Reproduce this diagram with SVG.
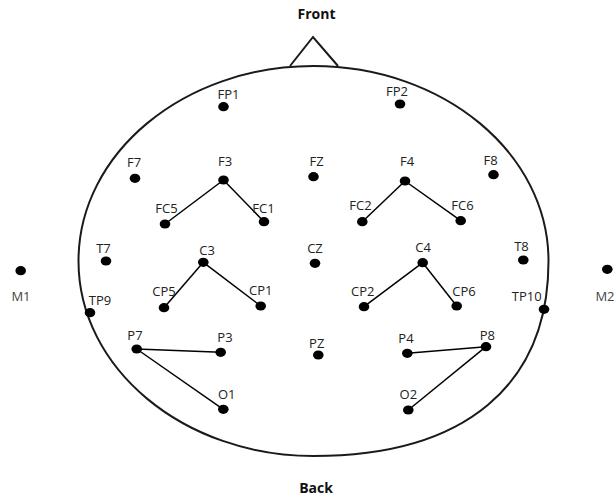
<svg xmlns="http://www.w3.org/2000/svg" width="616" height="500" viewBox="0 0 616 500">
  <style>
    .head { fill: none; stroke: #1a1a1a; stroke-width: 2; }
    .dot { fill: #000; }
    .lbl { font-family: "Open Sans", "Noto Sans", sans-serif; font-size: 13px; fill: #222; text-anchor: middle; }
    .ref { fill: #444; }
    .title { font-family: "Open Sans", "Noto Sans", sans-serif; font-size: 14px; font-weight: bold; fill: #111; text-anchor: middle; }
    .wire { stroke: #000; stroke-width: 1.5; fill: none; }
  </style>
  <rect width="616" height="500" fill="#fff"/>

  <!-- head outline (hand-drawn, slightly fuller at lower right) and nose -->
  <g id="head">
    <path class="head" d="M313.5,66 C443.3,66 548.5,153.3 548.5,261 C548.5,385 465,456 313.5,456 C183.7,456 78.5,368.7 78.5,261 C78.5,153.3 183.7,66 313.5,66 Z"/>
    <path class="head" d="M290,66 L313,37 L338,66"/>
  </g>
  <text class="title" x="316.5" y="18.5">Front</text>
  <text class="title" x="316" y="493">Back</text>

  <!-- bipolar montage connections -->
  <g id="connectors">
    <line class="wire" x1="223.5" y1="180" x2="165" y2="224"/>
    <line class="wire" x1="223.5" y1="180" x2="264" y2="221.7"/>
    <line class="wire" x1="405" y1="181" x2="362.3" y2="221.7"/>
    <line class="wire" x1="405" y1="181" x2="460.7" y2="220.7"/>
    <line class="wire" x1="203.3" y1="262.3" x2="164" y2="307.7"/>
    <line class="wire" x1="203.3" y1="262.3" x2="260.7" y2="306"/>
    <line class="wire" x1="422.7" y1="262.7" x2="364" y2="306.7"/>
    <line class="wire" x1="422.7" y1="262.7" x2="456.7" y2="306"/>
    <line class="wire" x1="136.7" y1="349" x2="220.7" y2="352.3"/>
    <line class="wire" x1="136.7" y1="349" x2="223.3" y2="409.3"/>
    <line class="wire" x1="486" y1="346.7" x2="407.3" y2="353.3"/>
    <line class="wire" x1="486" y1="346.7" x2="408.3" y2="410"/>
  </g>

  <!-- electrodes -->
  <g id="FP1"><ellipse class="dot" cx="223.5" cy="106.7" rx="5.3" ry="4.6"/><text class="lbl" x="228.5" y="98.5">FP1</text></g>
  <g id="FP2"><ellipse class="dot" cx="400" cy="104" rx="5.3" ry="4.6"/><text class="lbl" x="397" y="96">FP2</text></g>
  <g id="F7"><ellipse class="dot" cx="135" cy="178.3" rx="5.3" ry="4.6"/><text class="lbl" x="134" y="167">F7</text></g>
  <g id="F3"><ellipse class="dot" cx="223.5" cy="180" rx="5.3" ry="4.6"/><text class="lbl" x="225" y="166">F3</text></g>
  <g id="FZ"><ellipse class="dot" cx="313.5" cy="176.7" rx="5.3" ry="4.6"/><text class="lbl" x="316.5" y="166">FZ</text></g>
  <g id="F4"><ellipse class="dot" cx="405" cy="181" rx="5.3" ry="4.6"/><text class="lbl" x="407" y="166">F4</text></g>
  <g id="F8"><ellipse class="dot" cx="493.5" cy="174.7" rx="5.3" ry="4.6"/><text class="lbl" x="490.5" y="164.5">F8</text></g>
  <g id="FC5"><ellipse class="dot" cx="165" cy="224" rx="5.3" ry="4.6"/><text class="lbl" x="166.5" y="212.5">FC5</text></g>
  <g id="FC1"><ellipse class="dot" cx="264" cy="221.7" rx="5.3" ry="4.6"/><text class="lbl" x="263.5" y="212.5">FC1</text></g>
  <g id="FC2"><ellipse class="dot" cx="362.3" cy="221.7" rx="5.3" ry="4.6"/><text class="lbl" x="360.5" y="209.5">FC2</text></g>
  <g id="FC6"><ellipse class="dot" cx="460.7" cy="220.7" rx="5.3" ry="4.6"/><text class="lbl" x="462.5" y="209.5">FC6</text></g>
  <g id="T7"><ellipse class="dot" cx="106" cy="261" rx="5.3" ry="4.6"/><text class="lbl" x="103.5" y="252.5">T7</text></g>
  <g id="C3"><ellipse class="dot" cx="203.3" cy="262.3" rx="5.3" ry="4.6"/><text class="lbl" x="207" y="254.5">C3</text></g>
  <g id="CZ"><ellipse class="dot" cx="315" cy="263.3" rx="5.3" ry="4.6"/><text class="lbl" x="315" y="252.5">CZ</text></g>
  <g id="C4"><ellipse class="dot" cx="422.7" cy="262.7" rx="5.3" ry="4.6"/><text class="lbl" x="423" y="251.5">C4</text></g>
  <g id="T8"><ellipse class="dot" cx="523.3" cy="260" rx="5.3" ry="4.6"/><text class="lbl" x="521.5" y="251">T8</text></g>
  <g id="M1"><ellipse class="dot" cx="20.7" cy="270.7" rx="5.3" ry="4.6"/><text class="lbl ref" x="21" y="301">M1</text></g>
  <g id="M2"><ellipse class="dot" cx="607.3" cy="269.3" rx="5.3" ry="4.6"/><text class="lbl ref" x="605" y="301">M2</text></g>
  <g id="TP9"><ellipse class="dot" cx="90" cy="312.7" rx="5.3" ry="4.6"/><text class="lbl" x="100" y="304.5">TP9</text></g>
  <g id="CP5"><ellipse class="dot" cx="164" cy="307.7" rx="5.3" ry="4.6"/><text class="lbl" x="164" y="296">CP5</text></g>
  <g id="CP1"><ellipse class="dot" cx="260.7" cy="306" rx="5.3" ry="4.6"/><text class="lbl" x="260.7" y="295">CP1</text></g>
  <g id="CP2"><ellipse class="dot" cx="364" cy="306.7" rx="5.3" ry="4.6"/><text class="lbl" x="362.7" y="296">CP2</text></g>
  <g id="CP6"><ellipse class="dot" cx="456.7" cy="306" rx="5.3" ry="4.6"/><text class="lbl" x="464" y="295.5">CP6</text></g>
  <g id="TP10"><ellipse class="dot" cx="544" cy="309.3" rx="5.3" ry="4.6"/><text class="lbl" x="526.7" y="301">TP10</text></g>
  <g id="P7"><ellipse class="dot" cx="136.7" cy="349" rx="5.3" ry="4.6"/><text class="lbl" x="135" y="339.5">P7</text></g>
  <g id="P3"><ellipse class="dot" cx="220.7" cy="352.3" rx="5.3" ry="4.6"/><text class="lbl" x="225" y="341.5">P3</text></g>
  <g id="PZ"><ellipse class="dot" cx="318.3" cy="355" rx="5.3" ry="4.6"/><text class="lbl" x="316.7" y="347.5">PZ</text></g>
  <g id="P4"><ellipse class="dot" cx="407.3" cy="353.3" rx="5.3" ry="4.6"/><text class="lbl" x="406" y="342.5">P4</text></g>
  <g id="P8"><ellipse class="dot" cx="486" cy="346.7" rx="5.3" ry="4.6"/><text class="lbl" x="487.3" y="339.5">P8</text></g>
  <g id="O1"><ellipse class="dot" cx="223.3" cy="409.3" rx="5.3" ry="4.6"/><text class="lbl" x="226.7" y="398.5">O1</text></g>
  <g id="O2"><ellipse class="dot" cx="408.3" cy="410" rx="5.3" ry="4.6"/><text class="lbl" x="408.3" y="398.5">O2</text></g>
</svg>
